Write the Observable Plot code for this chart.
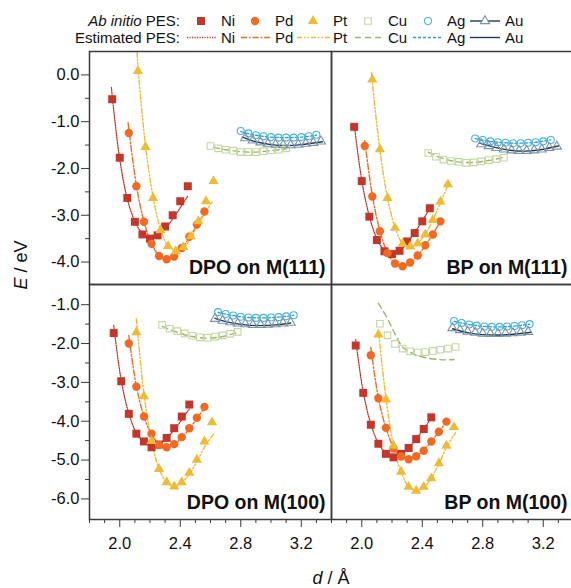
<!DOCTYPE html>
<html>
<head>
<meta charset="utf-8">
<script src="https://cdn.jsdelivr.net/npm/d3@7"></script>
<script src="https://cdn.jsdelivr.net/npm/@observablehq/plot@0.6"></script>
<style>
  body { margin: 0; background: #fff; font-family: "Liberation Sans", Arial, sans-serif; }
  #fig { position: relative; width: 571px; height: 588px; overflow: hidden; background: #fff; }
  #fig > svg { position: absolute; }
</style>
</head>
<body>
<div id="fig"></div>
<script>
// ---------- data: [d (Å), E (eV)] ----------
// DPO on M(111)
const dpo111_Ni = [[1.95,-0.52],[2.00,-1.77],[2.05,-2.63],[2.10,-3.14],[2.15,-3.41],[2.20,-3.50],[2.25,-3.43],[2.30,-3.24],[2.35,-3.00],[2.40,-2.70],[2.45,-2.38]];
const dpo111_Pd = [[2.06,-1.24],[2.11,-2.38],[2.16,-3.14],[2.21,-3.61],[2.26,-3.87],[2.31,-3.94],[2.36,-3.88],[2.41,-3.70],[2.46,-3.46],[2.51,-3.20],[2.56,-2.92]];
const dpo111_Pt = [[2.12,0.08],[2.17,-1.54],[2.22,-2.63],[2.27,-3.32],[2.32,-3.66],[2.37,-3.77],[2.42,-3.68],[2.47,-3.45],[2.52,-3.13],[2.57,-2.70],[2.62,-2.27]];
const dpo111_Cu = [[2.60,-1.52],[2.65,-1.57],[2.70,-1.60],[2.75,-1.62],[2.80,-1.65],[2.85,-1.65],[2.90,-1.65],[2.95,-1.63],[3.00,-1.61],[3.05,-1.60],[3.10,-1.57]];
const dpo111_Ag = [[2.80,-1.20],[2.85,-1.25],[2.90,-1.29],[2.95,-1.31],[3.00,-1.33],[3.05,-1.34],[3.10,-1.34],[3.15,-1.34],[3.20,-1.33],[3.25,-1.31],[3.30,-1.28]];
const dpo111_Au = [[2.83,-1.35],[2.88,-1.40],[2.93,-1.44],[2.98,-1.47],[3.03,-1.49],[3.08,-1.50],[3.13,-1.50],[3.18,-1.49],[3.23,-1.47],[3.28,-1.45],[3.33,-1.42]];
const dpo111_NiFit = [[1.945,-0.27],[1.96,-0.75],[2.00,-1.80],[2.05,-2.65],[2.10,-3.13],[2.15,-3.39],[2.20,-3.47],[2.25,-3.43],[2.30,-3.29],[2.35,-3.08],[2.40,-2.84],[2.45,-2.59]];
const dpo111_PdFit = [[2.055,-1.02],[2.11,-2.36],[2.16,-3.13],[2.21,-3.60],[2.26,-3.86],[2.31,-3.94],[2.36,-3.88],[2.41,-3.71],[2.46,-3.48],[2.51,-3.22],[2.56,-2.95]];
const dpo111_PtFit = [[2.115,0.48],[2.12,0.20],[2.17,-1.50],[2.22,-2.60],[2.27,-3.30],[2.32,-3.66],[2.37,-3.76],[2.42,-3.70],[2.47,-3.50],[2.52,-3.18],[2.57,-2.92],[2.61,-2.72]];
const dpo111_CuFit = [[2.62,-1.55],[2.70,-1.60],[2.80,-1.64],[2.90,-1.65],[3.00,-1.62],[3.10,-1.58]];
const dpo111_AgFit = [[2.80,-1.21],[2.90,-1.29],[3.00,-1.33],[3.10,-1.34],[3.20,-1.33],[3.30,-1.29]];
const dpo111_AuFit = [[2.81,-1.33],[2.90,-1.43],[3.00,-1.49],[3.10,-1.51],[3.20,-1.49],[3.34,-1.43]];

// BP on M(111)
const bp111_Ni = [[1.95,-1.11],[2.00,-2.27],[2.05,-3.03],[2.10,-3.53],[2.15,-3.77],[2.20,-3.83],[2.25,-3.76],[2.30,-3.56],[2.35,-3.38],[2.40,-3.13],[2.45,-2.85]];
const bp111_Pd = [[2.02,-1.52],[2.07,-2.60],[2.12,-3.34],[2.17,-3.81],[2.22,-4.03],[2.27,-4.09],[2.32,-4.01],[2.37,-3.86],[2.42,-3.64],[2.47,-3.41],[2.52,-3.13]];
const bp111_Pt = [[2.07,-0.10],[2.12,-1.59],[2.17,-2.63],[2.22,-3.27],[2.27,-3.61],[2.32,-3.67],[2.37,-3.60],[2.42,-3.41],[2.47,-3.10],[2.52,-2.71],[2.57,-2.34]];
const bp111_Cu = [[2.44,-1.67],[2.49,-1.75],[2.54,-1.81],[2.59,-1.84],[2.64,-1.86],[2.69,-1.88],[2.74,-1.87],[2.79,-1.85],[2.84,-1.82],[2.89,-1.80],[2.94,-1.77]];
const bp111_Ag = [[2.75,-1.36],[2.80,-1.39],[2.85,-1.42],[2.90,-1.44],[2.95,-1.45],[3.00,-1.46],[3.05,-1.46],[3.10,-1.45],[3.15,-1.44],[3.20,-1.42],[3.25,-1.39]];
const bp111_Au = [[2.79,-1.48],[2.84,-1.52],[2.89,-1.56],[2.94,-1.59],[2.99,-1.61],[3.04,-1.62],[3.09,-1.62],[3.14,-1.61],[3.19,-1.59],[3.24,-1.56],[3.29,-1.53]];
const bp111_NiFit = [[1.95,-1.05],[2.00,-2.25],[2.05,-3.02],[2.10,-3.50],[2.15,-3.75],[2.20,-3.82],[2.25,-3.76],[2.30,-3.59],[2.35,-3.37],[2.40,-3.12],[2.45,-2.85]];
const bp111_PdFit = [[2.02,-1.40],[2.07,-2.58],[2.12,-3.33],[2.17,-3.80],[2.22,-4.03],[2.27,-4.09],[2.32,-4.02],[2.37,-3.86],[2.42,-3.65],[2.47,-3.40],[2.52,-3.13]];
const bp111_PtFit = [[2.065,0.05],[2.07,-0.15],[2.12,-1.60],[2.17,-2.62],[2.22,-3.26],[2.27,-3.60],[2.32,-3.68],[2.37,-3.60],[2.42,-3.40],[2.47,-3.10],[2.52,-2.73],[2.57,-2.36]];
const bp111_CuFit = [[2.44,-1.65],[2.54,-1.79],[2.64,-1.86],[2.74,-1.87],[2.84,-1.83],[2.94,-1.76]];
const bp111_AgFit = [[2.75,-1.36],[2.85,-1.42],[2.95,-1.45],[3.05,-1.46],[3.15,-1.44],[3.25,-1.39]];
const bp111_AuFit = [[2.78,-1.46],[2.88,-1.55],[2.98,-1.61],[3.08,-1.63],[3.18,-1.60],[3.30,-1.52]];

// DPO on M(100)
const dpo100_Ni = [[1.96,-1.73],[2.01,-2.97],[2.06,-3.81],[2.11,-4.32],[2.16,-4.52],[2.21,-4.67],[2.26,-4.60],[2.31,-4.43],[2.36,-4.18],[2.41,-3.88],[2.46,-3.57]];
const dpo100_Pd = [[2.06,-2.00],[2.11,-3.11],[2.16,-3.88],[2.21,-4.32],[2.26,-4.61],[2.31,-4.67],[2.36,-4.59],[2.41,-4.41],[2.46,-4.18],[2.51,-3.91],[2.56,-3.63]];
const dpo100_Pt = [[2.11,-1.71],[2.16,-3.36],[2.21,-4.51],[2.26,-5.23],[2.31,-5.57],[2.36,-5.68],[2.41,-5.57],[2.46,-5.33],[2.51,-4.99],[2.56,-4.52],[2.61,-4.03]];
const dpo100_Cu = [[2.28,-1.52],[2.33,-1.62],[2.38,-1.68],[2.43,-1.74],[2.48,-1.80],[2.53,-1.84],[2.58,-1.85],[2.63,-1.82],[2.68,-1.79],[2.73,-1.75],[2.78,-1.70]];
const dpo100_Ag = [[2.65,-1.19],[2.70,-1.24],[2.75,-1.28],[2.80,-1.31],[2.85,-1.33],[2.90,-1.34],[2.95,-1.34],[3.00,-1.33],[3.05,-1.32],[3.10,-1.30],[3.15,-1.27]];
const dpo100_Au = [[2.63,-1.36],[2.68,-1.41],[2.73,-1.45],[2.78,-1.48],[2.83,-1.50],[2.88,-1.52],[2.93,-1.52],[2.98,-1.51],[3.03,-1.50],[3.08,-1.48],[3.13,-1.46]];
const dpo100_NiFit = [[1.96,-1.53],[2.01,-2.95],[2.06,-3.80],[2.11,-4.30],[2.16,-4.55],[2.21,-4.63],[2.26,-4.58],[2.31,-4.44],[2.36,-4.22],[2.41,-3.96],[2.46,-3.68]];
const dpo100_PdFit = [[2.06,-1.79],[2.11,-3.10],[2.16,-3.87],[2.21,-4.34],[2.26,-4.59],[2.31,-4.66],[2.36,-4.59],[2.41,-4.42],[2.46,-4.20],[2.51,-3.93],[2.56,-3.66]];
const dpo100_PtFit = [[2.11,-1.36],[2.16,-3.30],[2.21,-4.50],[2.26,-5.22],[2.31,-5.57],[2.36,-5.67],[2.41,-5.58],[2.46,-5.36],[2.51,-5.04],[2.56,-4.67],[2.62,-4.33]];
const dpo100_CuFit = [[2.28,-1.56],[2.38,-1.71],[2.48,-1.82],[2.58,-1.86],[2.68,-1.82],[2.78,-1.71]];
const dpo100_AgFit = [[2.65,-1.20],[2.75,-1.28],[2.85,-1.33],[2.95,-1.34],[3.05,-1.32],[3.15,-1.27]];
const dpo100_AuFit = [[2.63,-1.35],[2.73,-1.46],[2.83,-1.52],[2.93,-1.54],[3.03,-1.52],[3.13,-1.47]];

// BP on M(100)
const bp100_Ni = [[1.96,-2.05],[2.01,-3.27],[2.06,-4.09],[2.11,-4.58],[2.16,-4.84],[2.21,-4.93],[2.26,-4.84],[2.31,-4.69],[2.36,-4.46],[2.41,-4.20],[2.46,-3.90]];
const bp100_Pd = [[2.06,-2.30],[2.11,-3.41],[2.16,-4.17],[2.21,-4.70],[2.26,-4.91],[2.31,-4.98],[2.36,-4.90],[2.41,-4.76],[2.46,-4.52],[2.51,-4.27],[2.56,-4.01]];
const bp100_Pt = [[2.11,-1.77],[2.16,-3.44],[2.21,-4.63],[2.26,-5.30],[2.31,-5.69],[2.36,-5.79],[2.41,-5.69],[2.46,-5.47],[2.51,-5.08],[2.56,-4.63],[2.61,-4.15]];
const bp100_Cu = [[2.12,-1.49],[2.17,-1.79],[2.22,-2.01],[2.27,-2.13],[2.32,-2.20],[2.37,-2.23],[2.42,-2.22],[2.47,-2.19],[2.52,-2.16],[2.57,-2.13],[2.62,-2.09]];
const bp100_Ag = [[2.61,-1.42],[2.66,-1.47],[2.71,-1.51],[2.76,-1.54],[2.81,-1.56],[2.86,-1.57],[2.91,-1.57],[2.96,-1.56],[3.01,-1.55],[3.06,-1.53],[3.11,-1.50]];
const bp100_Au = [[2.60,-1.60],[2.65,-1.65],[2.70,-1.69],[2.75,-1.72],[2.80,-1.74],[2.85,-1.75],[2.90,-1.75],[2.95,-1.74],[3.00,-1.73],[3.05,-1.72],[3.10,-1.70]];
const bp100_NiFit = [[1.96,-1.90],[2.01,-3.25],[2.06,-4.07],[2.11,-4.57],[2.16,-4.83],[2.21,-4.92],[2.26,-4.86],[2.31,-4.69],[2.36,-4.46],[2.41,-4.20],[2.46,-3.92]];
const bp100_PdFit = [[2.06,-2.10],[2.11,-3.40],[2.16,-4.17],[2.21,-4.67],[2.26,-4.91],[2.31,-4.98],[2.36,-4.91],[2.41,-4.74],[2.46,-4.52],[2.51,-4.27],[2.56,-4.01]];
const bp100_PtFit = [[2.11,-1.65],[2.16,-3.40],[2.21,-4.62],[2.26,-5.30],[2.31,-5.68],[2.36,-5.79],[2.41,-5.70],[2.46,-5.46],[2.51,-5.10],[2.56,-4.68],[2.62,-4.30]];
const bp100_CuFit = [[2.11,-0.96],[2.17,-1.36],[2.22,-1.75],[2.27,-2.09],[2.32,-2.22],[2.37,-2.31],[2.46,-2.39],[2.54,-2.42],[2.61,-2.41]];
const bp100_AgFit = [[2.61,-1.43],[2.71,-1.51],[2.81,-1.56],[2.91,-1.57],[3.01,-1.55],[3.11,-1.50]];
const bp100_AuFit = [[2.60,-1.62],[2.70,-1.72],[2.80,-1.77],[2.90,-1.78],[3.00,-1.76],[3.12,-1.71]];

// ---------- axis ticks ----------
const xMajor = [2.0, 2.4, 2.8, 3.2];
const xMinor = [1.8,1.9,2.1,2.2,2.3,2.5,2.6,2.7,2.9,3.0,3.1,3.3,3.4];
const yMajorTop = [0, -1, -2, -3, -4];
const yMinorTop = [-0.5, -1.5, -2.5, -3.5];
const yMajorBottom = [-1, -2, -3, -4, -5, -6];
const yMinorBottom = [-1.5, -2.5, -3.5, -4.5, -5.5];
const metals = ["Ni", "Pd", "Pt", "Cu", "Ag", "Au"];
const panelTitles = ["DPO on M(111)", "BP on M(111)", "DPO on M(100)", "BP on M(100)"];

// ---------- styles ----------
const FONT = "Liberation Sans, Arial, sans-serif";
const AXIS = "#3a3a3a";
const style = {
  Ni: {symbol: "square",   r: 4.5, fill: "#c4352a", stroke: "none",    line: "#c4352a", dash: "1.2,1.3", lw: 1.3},
  Pd: {symbol: "circle",   r: 4.2, fill: "#f26a21", stroke: "none",    line: "#f26a21", dash: "6,2,1.6,2", lw: 1.4},
  Pt: {symbol: "triangle", r: 3.8, fill: "#efbb34", stroke: "none",    line: "#efbb34", dash: "5,2,1.5,2,1.5,2", lw: 1.4},
  Cu: {symbol: "square",   r: 3.7, fill: "none",    stroke: "#c5d6a2", line: "#9db46c", dash: "6,4", lw: 1.4},
  Ag: {symbol: "circle",   r: 3.5, fill: "none",    stroke: "#46b3e2", line: "#2a9bd6", dash: "3,2", lw: 1.3},
  Au: {symbol: "triangle", r: 3.4, fill: "none",    stroke: "#7d92a8", line: "#1e3a57", dash: null, lw: 1.4}
};

const panels = [
  {title: panelTitles[0], pts: [dpo111_Ni, dpo111_Pd, dpo111_Pt, dpo111_Cu, dpo111_Ag, dpo111_Au],
   fit: [dpo111_NiFit, dpo111_PdFit, dpo111_PtFit, dpo111_CuFit, dpo111_AgFit, dpo111_AuFit]},
  {title: panelTitles[1], pts: [bp111_Ni, bp111_Pd, bp111_Pt, bp111_Cu, bp111_Ag, bp111_Au],
   fit: [bp111_NiFit, bp111_PdFit, bp111_PtFit, bp111_CuFit, bp111_AgFit, bp111_AuFit]},
  {title: panelTitles[2], pts: [dpo100_Ni, dpo100_Pd, dpo100_Pt, dpo100_Cu, dpo100_Ag, dpo100_Au],
   fit: [dpo100_NiFit, dpo100_PdFit, dpo100_PtFit, dpo100_CuFit, dpo100_AgFit, dpo100_AuFit]},
  {title: panelTitles[3], pts: [bp100_Ni, bp100_Pd, bp100_Pt, bp100_Cu, bp100_Ag, bp100_Au],
   fit: [bp100_NiFit, bp100_PdFit, bp100_PtFit, bp100_CuFit, bp100_AgFit, bp100_AuFit]}
];

const toRows = (pairs, metal) => pairs.map(([d, E]) => ({metal, d, E}));

function panelPlot(p, {left, bottom}) {
  const marks = [];
  // estimated PES curves
  metals.forEach((m, i) => {
    const s = style[m];
    marks.push(Plot.line(toRows(p.fit[i], m), {
      x: "d", y: "E", stroke: s.line, strokeWidth: s.lw,
      strokeDasharray: s.dash || undefined, curve: "catmull-rom", clip: true
    }));
  });
  // ab initio points
  metals.forEach((m, i) => {
    const s = style[m];
    marks.push(Plot.dot(toRows(p.pts[i], m), {
      x: "d", y: "E", symbol: s.symbol, r: s.r,
      fill: s.fill, stroke: s.stroke, strokeWidth: 1.1
    }));
  });
  marks.push(Plot.text([p.title], {
    frameAnchor: "bottom-right", dx: -6, dy: -11, text: d => d,
    fontSize: 19.5, fontWeight: "bold", fill: "#111", lineAnchor: "bottom"
  }));
  marks.push(Plot.frame({stroke: AXIS, strokeWidth: 1.5}));
  if (left) {
    marks.push(Plot.axisY(bottom ? yMajorBottom : yMajorTop, {
      tickSize: 8, tickPadding: 2, tickFormat: d => d.toFixed(1),
      fontSize: 16.5, stroke: AXIS, fill: "#111", label: null
    }));
    marks.push(Plot.axisY(bottom ? yMinorBottom : yMinorTop, {
      tickSize: 4, tickFormat: () => "", stroke: AXIS, label: null
    }));
  }
  if (bottom) {
    marks.push(Plot.axisX(xMajor, {
      tickSize: 8, tickPadding: 10, tickFormat: d => d.toFixed(1),
      fontSize: 16.5, stroke: AXIS, fill: "#111", label: null
    }));
    marks.push(Plot.axisX(xMinor, {
      tickSize: 4, tickFormat: () => "", stroke: AXIS, label: null
    }));
  }
  return Plot.plot({
    width: left ? 331 : 242,
    height: bottom ? 306 : 241,
    marginLeft: left ? 89 : 0,
    marginRight: 0,
    marginTop: bottom ? 2 : 6,
    marginBottom: bottom ? 69 : 2,
    style: {background: "transparent", overflow: "visible", fontFamily: FONT},
    x: {domain: [1.8, 3.4], axis: bottom ? undefined : null},
    y: {domain: bottom ? [-6.53, -0.48] : [-4.48, 0.5], axis: left ? undefined : null},
    marks
  });
}

const fig = document.getElementById("fig");
const layout = [
  {left: true,  bottom: false, x: 0,   y: 45},
  {left: false, bottom: false, x: 331, y: 45},
  {left: true,  bottom: true,  x: 0,   y: 282},
  {left: false, bottom: true,  x: 331, y: 282}
];
panels.forEach((p, i) => {
  const svg = panelPlot(p, layout[i]);
  svg.style.left = layout[i].x + "px";
  svg.style.top = layout[i].y + "px";
  fig.appendChild(svg);
});

// ---------- legend and axis titles ----------
const ov = d3.select(fig).append("svg")
  .attr("width", 571).attr("height", 588)
  .style("left", "0px").style("top", "0px")
  .style("pointer-events", "none")
  .attr("font-family", FONT);

const row1 = 21, row2 = 37.5;
const lg = ov.append("g").attr("font-size", 15).attr("fill", "#111");
const t1 = lg.append("text").attr("x", 180).attr("y", row1).attr("text-anchor", "end").attr("dy", "0.35em");
t1.append("tspan").attr("font-style", "italic").text("Ab initio");
t1.append("tspan").text(" PES:");
lg.append("text").attr("x", 180).attr("y", row2).attr("text-anchor", "end").attr("dy", "0.35em").text("Estimated PES:");

const legendSym = {Ni: 201, Pd: 255, Pt: 313, Cu: 368, Ag: 428, Au: 485};
const legendLine = {Ni: [187, 217], Pd: [241, 272], Pt: [297, 330], Cu: [355, 384], Ag: [413, 442], Au: [470, 500]};
const legendText = {Ni: 221, Pd: 275, Pt: 333, Cu: 388, Ag: 447, Au: 505};
const symType = {square: d3.symbolSquare, circle: d3.symbolCircle, triangle: d3.symbolTriangle};
metals.forEach(m => {
  const s = style[m];
  if (m === "Au") {
    lg.append("line").attr("x1", 470).attr("x2", 500).attr("y1", row1).attr("y2", row1)
      .attr("stroke", s.line).attr("stroke-width", 1.4);
  }
  lg.append("path")
    .attr("transform", `translate(${legendSym[m]},${row1})`)
    .attr("d", d3.symbol(symType[s.symbol], Math.PI * s.r * s.r)())
    .attr("fill", m === "Au" ? "#fff" : s.fill).attr("stroke", s.stroke === "none" ? null : s.stroke)
    .attr("stroke-width", 1.1);
  lg.append("line").attr("x1", legendLine[m][0]).attr("x2", legendLine[m][1])
    .attr("y1", row2).attr("y2", row2)
    .attr("stroke", s.line).attr("stroke-width", s.lw)
    .attr("stroke-dasharray", s.dash);
  [row1, row2].forEach(y => lg.append("text").attr("x", legendText[m]).attr("y", y)
    .attr("dy", "0.35em").text(m));
});

// axis titles
const yt = ov.append("text").attr("transform", "translate(27,265) rotate(-90)")
  .attr("text-anchor", "middle").attr("font-size", 18).attr("fill", "#111");
yt.append("tspan").attr("font-style", "italic").text("E");
yt.append("tspan").text(" / eV");
const xt = ov.append("text").attr("x", 331).attr("y", 584)
  .attr("text-anchor", "middle").attr("font-size", 18).attr("fill", "#111");
xt.append("tspan").attr("font-style", "italic").text("d");
xt.append("tspan").text(" / Å");
</script>
</body>
</html>
